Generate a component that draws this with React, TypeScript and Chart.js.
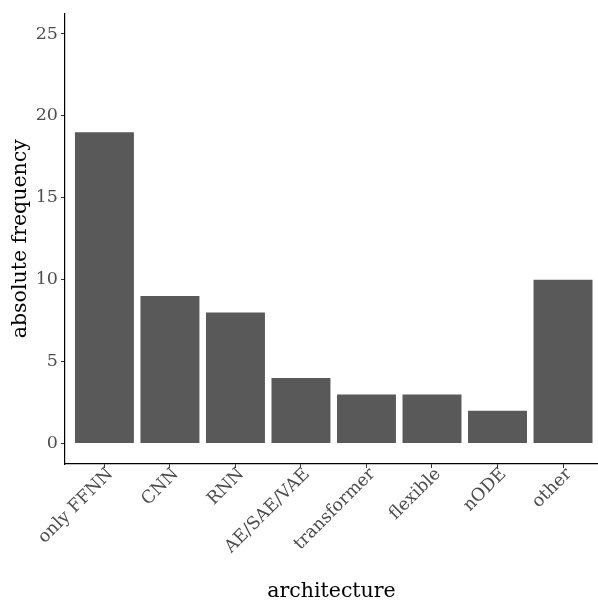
import React, { useEffect, useRef } from "react";
import { Chart, registerables } from "chart.js";

Chart.register(...registerables);

const categories = ["only FFNN", "CNN", "RNN", "AE/SAE/VAE", "transformer", "flexible", "nODE", "other"];
const counts = [19, 9, 8, 4, 3, 3, 2, 10];
const yTickValues = [0, 5, 10, 15, 20, 25];

const FONT = "DejaVu Serif";

export default function App() {
  const ref = useRef<HTMLCanvasElement | null>(null);

  useEffect(() => {
    document.body.style.margin = "0";
    const ctx = ref.current!;
    const chart = new Chart(ctx, {
      type: "bar",
      data: {
        datasets: [
          {
            data: counts.map((v, i) => ({ x: i, y: v })),
            backgroundColor: "#595959",
            borderWidth: 0,
            barPercentage: 0.9,
            categoryPercentage: 1,
          },
        ],
      },
      options: {
        animation: false,
        responsive: true,
        maintainAspectRatio: false,
        layout: { padding: { top: 11.4, right: 0, bottom: 0, left: 0 } },
        plugins: { legend: { display: false }, tooltip: { enabled: false } },
        scales: {
          x: {
            type: "linear",
            offset: false,
            min: -0.602,
            max: 7.534,
            afterBuildTicks: (scale: any) => {
              scale.ticks = categories.map((_, i) => ({ value: i }));
            },
            afterFit: (scale: any) => {
              scale.height = 138;
            },
            ticks: {
              autoSkip: false,
              minRotation: 45,
              maxRotation: 45,
              padding: -4,
              labelOffset: 6,
              color: "#4d4d4d",
              font: { family: FONT, size: 17.5 },
              callback: (value: any) => categories[value as number] ?? "",
            },
            grid: { display: true, offset: false, drawOnChartArea: false, drawTicks: true, tickLength: 4, color: "#333333", lineWidth: 1 },
            border: { display: true, color: "#000000", width: 1.2 },
            title: {
              display: true,
              text: "architecture",
              color: "#000000",
              font: { family: FONT, size: 20.5, lineHeight: 1 },
              padding: { top: 0, bottom: 0 },
            },
          },
          y: {
            type: "linear",
            min: -1.25,
            max: 26.25,
            afterBuildTicks: (scale: any) => {
              scale.ticks = yTickValues.map((v) => ({ value: v }));
            },
            afterFit: (scale: any) => {
              scale.width = 65;
            },
            ticks: {
              padding: 3,
              color: "#4d4d4d",
              font: { family: FONT, size: 17.5 },
            },
            grid: { display: true, drawOnChartArea: false, drawTicks: true, tickLength: 4, color: "#333333", lineWidth: 1 },
            border: { display: true, color: "#000000", width: 1.2 },
            title: {
              display: true,
              text: "absolute frequency",
              color: "#000000",
              font: { family: FONT, size: 20.5, lineHeight: 1 },
              padding: { top: 10, bottom: 0 },
            },
          },
        },
      },
    });
    return () => chart.destroy();
  }, []);

  return (
    <div style={{ position: "absolute", left: 0, top: 0, width: 598, height: 602, background: "#ffffff" }}>
      <canvas ref={ref} />
    </div>
  );
}
